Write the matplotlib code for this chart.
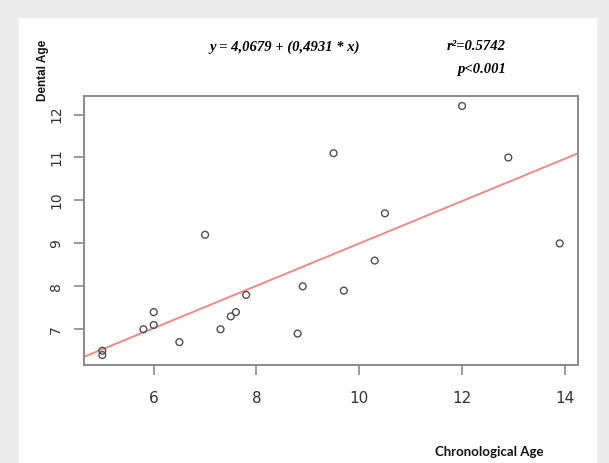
import matplotlib.pyplot as plt
import matplotlib.patches as patches
import numpy as np

# Chronological age (x) vs dental age (y)
chrono_age = [5.0, 5.0, 5.8, 6.0, 6.0, 6.5, 7.0, 7.3, 7.5, 7.6,
              7.8, 8.8, 8.9, 9.5, 9.7, 10.3, 10.5, 12.0, 12.9, 13.9]
dental_age = [6.5, 6.4, 7.0, 7.4, 7.1, 6.7, 9.2, 7.0, 7.3, 7.4,
              7.8, 6.9, 8.0, 11.1, 7.9, 8.6, 9.7, 12.2, 11.0, 9.0]
intercept = 4.0679
slope = 0.4931
x_ticks = [6, 8, 10, 12, 14]
y_ticks = [7, 8, 9, 10, 11, 12]

fig = plt.figure(figsize=(6.09, 4.63), dpi=100, facecolor="#ebebeb")

# White panel behind the plot
fig.patches.append(patches.Rectangle((19 / 609, 0), (597 - 19) / 609, 1 - 18 / 463,
                                     transform=fig.transFigure, facecolor="white",
                                     edgecolor="none", zorder=-10))

ax = fig.add_axes([84 / 609, 1 - 365 / 463, (578 - 84) / 609, (365 - 96) / 463])
ax.set_facecolor("white")

# R-style limits: 4% extension of data range
xr = max(chrono_age) - min(chrono_age)
yr = max(dental_age) - min(dental_age)
ax.set_xlim(min(chrono_age) - 0.04 * xr, max(chrono_age) + 0.04 * xr)
ax.set_ylim(min(dental_age) - 0.04 * yr, max(dental_age) + 0.04 * yr)

ax.scatter(chrono_age, dental_age, s=24, facecolors="none", edgecolors="#505050",
           linewidths=1.0, zorder=3)

xs = np.array(ax.get_xlim())
ax.plot(xs, intercept + slope * xs, color="#f08a8a", lw=1.4, zorder=2)

for sp in ax.spines.values():
    sp.set_color("#8a8a8a")
    sp.set_linewidth(1.4)

ax.set_xticks(x_ticks)
ax.set_yticks(y_ticks)
ax.tick_params(axis="x", length=7, width=1.2, color="#8a8a8a", pad=12,
               labelsize=11, labelcolor="#333333")
ax.tick_params(axis="y", length=7, width=1.2, color="#8a8a8a", pad=8,
               labelsize=10, labelcolor="#333333")
for lbl in ax.get_yticklabels():
    lbl.set_rotation(90)
    lbl.set_va("center")
for lbl in ax.get_xticklabels() + ax.get_yticklabels():
    lbl.set_family("Liberation Sans Narrow")

fig.text(285 / 609, 1 - 47 / 463, "y = 4,0679 + (0,4931 * x)", ha="center", va="center",
         family="Liberation Serif", style="italic", weight="bold", fontsize=10.5)
fig.text(506 / 609, 1 - 47 / 463, "r\u00b2=0.5742", ha="right", va="center",
         family="Liberation Serif", style="italic", weight="bold", fontsize=10.5)
fig.text(506 / 609, 1 - 70 / 463, "p<0.001", ha="right", va="center",
         family="Liberation Serif", style="italic", weight="bold", fontsize=10.5)

fig.text(43 / 609, 1 - 70 / 463, "Dental Age", rotation=90, ha="center", va="center",
         family="Liberation Sans", weight="bold", fontsize=8.5, color="#111111")
fig.text(489 / 609, 1 - 452 / 463, "Chronological Age", ha="center", va="center",
         family="Lato", weight="bold", fontsize=9.5, color="#111111")

fig.savefig("out.png", dpi=100, facecolor=fig.get_facecolor())
